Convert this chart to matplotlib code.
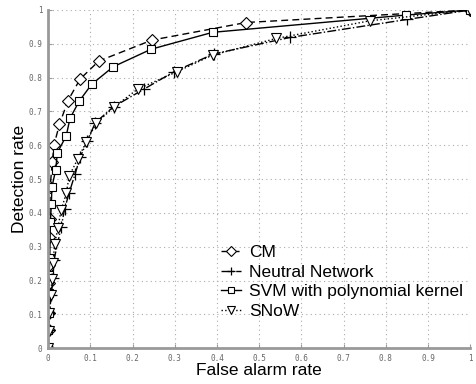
import matplotlib
matplotlib.use("Agg")
import matplotlib.pyplot as plt
import numpy as np

# ROC points
cm_far = [0, 0.0015, 0.0015, 0.0015, 0.0015, 0.0025, 0.004, 0.005, 0.010,
          0.014, 0.027, 0.047, 0.076, 0.120, 0.246, 0.469, 1.0]
cm_dr = [0, 0.054, 0.103, 0.194, 0.246, 0.328, 0.381, 0.478, 0.550,
         0.601, 0.662, 0.732, 0.796, 0.849, 0.911, 0.963, 1.0]

nn_far = [0, 0.002, 0.003, 0.0078, 0.0116, 0.014, 0.031, 0.039, 0.050,
          0.064, 0.076, 0.093, 0.112, 0.155, 0.227, 0.299, 0.392, 0.574, 0.850, 1.0]
nn_dr = [0, 0.054, 0.103, 0.158, 0.207, 0.261, 0.358, 0.411, 0.460,
         0.515, 0.565, 0.614, 0.667, 0.714, 0.766, 0.818, 0.870, 0.919, 0.972, 1.0]

svm_far = [0, 0.001, 0.0015, 0.0015, 0.0025, 0.004, 0.0055, 0.0078, 0.009,
           0.018, 0.022, 0.043, 0.052, 0.074, 0.103, 0.154, 0.244, 0.390, 0.848, 1.0]
svm_dr = [0, 0.054, 0.103, 0.163, 0.217, 0.266, 0.374, 0.427, 0.476,
          0.527, 0.578, 0.628, 0.680, 0.731, 0.780, 0.832, 0.884, 0.934, 0.985, 1.0]

snow_far = [0, 0.0025, 0.0025, 0.0062, 0.009, 0.0116, 0.0155, 0.023, 0.031,
            0.043, 0.050, 0.070, 0.091, 0.114, 0.155, 0.212, 0.306, 0.390,
            0.541, 0.762, 1.0]
snow_dr = [0, 0.051, 0.103, 0.158, 0.204, 0.252, 0.307, 0.355, 0.409,
           0.458, 0.509, 0.559, 0.611, 0.665, 0.712, 0.766, 0.818, 0.867,
           0.916, 0.968, 1.0]

ticks = np.round(np.arange(0, 1.01, 0.1), 1)
tick_labels = ["0", "0.1", "0.2", "0.3", "0.4", "0.5", "0.6", "0.7", "0.8", "0.9", "1"]

fig = plt.figure(figsize=(4.76, 3.84), dpi=100)
ax = fig.add_axes([0.101, 0.093, 0.887, 0.881])

ax.plot(cm_far, cm_dr, color="black", linestyle=(0, (5, 3)), linewidth=1,
        marker="D", markersize=6, markerfacecolor="white", markeredgecolor="black",
        markeredgewidth=0.8, label="CM")
ax.plot(nn_far, nn_dr, color="black", linestyle="-.", linewidth=1,
        marker="+", markersize=8, markeredgewidth=0.9, label="Neutral Network")
ax.plot(svm_far, svm_dr, color="black", linestyle="-", linewidth=1,
        marker="s", markersize=5.5, markerfacecolor="white", markeredgecolor="black",
        markeredgewidth=0.8, label="SVM with polynomial kernel")
ax.plot(snow_far, snow_dr, color="black", linestyle=":", linewidth=1,
        marker="v", markersize=7, markerfacecolor="white", markeredgecolor="black",
        markeredgewidth=0.8, label="SNoW")

ax.set_xlim(0, 1)
ax.set_ylim(0, 1)
ax.set_xticks(ticks)
ax.set_xticklabels(tick_labels)
ax.set_yticks(ticks)
ax.set_yticklabels(tick_labels)
ax.tick_params(direction="in", length=3, color="#999999", labelcolor="#666666",
               labelsize=5.5, pad=4)
for lab in ax.get_xticklabels() + ax.get_yticklabels():
    lab.set_family("DejaVu Sans Mono")

ax.grid(True, color="#aaaaaa", linestyle=(0, (1, 3)), linewidth=0.8)
for side in ["top", "right"]:
    ax.spines[side].set_visible(False)
for side in ["left", "bottom"]:
    ax.spines[side].set_color("#999999")
    ax.spines[side].set_linewidth(2)

ax.set_xlabel("False alarm rate", fontsize=12.5, family="Liberation Sans", labelpad=0)
ax.set_ylabel("Detection rate", fontsize=12.5, family="Liberation Sans", labelpad=1)

ax.legend(loc="upper left", bbox_to_anchor=(0.39, 0.33), frameon=False,
          prop={"family": "Liberation Sans", "size": 12.5}, handlelength=1.1,
          handletextpad=0.5, labelspacing=0.25, borderpad=0, markerscale=0.8)

fig.savefig("out.png", dpi=100)
